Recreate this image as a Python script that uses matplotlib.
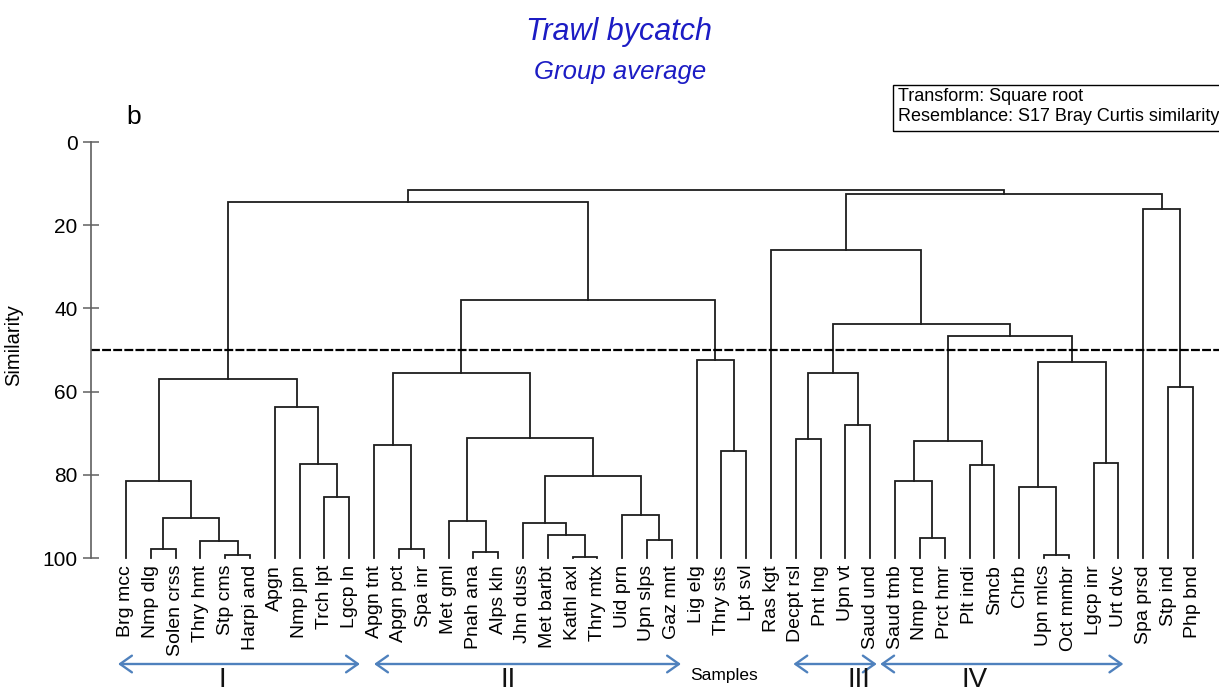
import matplotlib
matplotlib.use("Agg")
import matplotlib.pyplot as plt
from matplotlib.patches import Rectangle

plt.rcParams['font.family'] = ['Liberation Sans', 'DejaVu Sans']

# leaf order along the x axis
leaves = ['Brg mcc', 'Nmp dlg', 'Solen crss', 'Thry hmt', 'Stp cms', 'Harpi and', 'Apgn',
          'Nmp jpn', 'Trch lpt', 'Lgcp ln', 'Apgn tnt', 'Apgn pct', 'Spa inr', 'Met gml',
          'Pnah ana', 'Alps kln', 'Jhn duss', 'Met barbt', 'Kathl axl', 'Thry mtx', 'Uid prn',
          'Upn slps', 'Gaz mnt', 'Lig elg', 'Thry sts', 'Lpt svl', 'Ras kgt', 'Decpt rsl',
          'Pnt lng', 'Upn vt', 'Saud und', 'Saud tmb', 'Nmp rnd', 'Prct hmr', 'Plt indi',
          'Smcb', 'Chrb', 'Upn mlcs', 'Oct mmbr', 'Lgcp inr', 'Urt dvc', 'Spa prsd',
          'Stp ind', 'Php bnd']

# merges: (left, right, similarity); ints refer to earlier merges
merges = [
    ('Nmp dlg', 'Solen crss', 97.9),   # 0
    ('Stp cms', 'Harpi and', 99.3),    # 1
    ('Thry hmt', 1, 95.8),             # 2
    (0, 2, 90.3),                      # 3
    ('Brg mcc', 3, 81.6),              # 4
    ('Trch lpt', 'Lgcp ln', 85.3),     # 5
    ('Nmp jpn', 5, 77.3),              # 6
    ('Apgn', 6, 63.8),                 # 7
    (4, 7, 57.0),                      # 8
    ('Apgn pct', 'Spa inr', 97.9),     # 9
    ('Apgn tnt', 9, 72.8),             # 10
    ('Pnah ana', 'Alps kln', 98.6),    # 11
    ('Met gml', 11, 91.0),             # 12
    ('Kathl axl', 'Thry mtx', 99.8),   # 13
    ('Met barbt', 13, 94.4),           # 14
    ('Jhn duss', 14, 91.5),            # 15
    ('Upn slps', 'Gaz mnt', 95.6),     # 16
    ('Uid prn', 16, 89.7),             # 17
    (15, 17, 80.2),                    # 18
    (12, 18, 71.1),                    # 19
    (10, 19, 55.5),                    # 20
    ('Thry sts', 'Lpt svl', 74.2),     # 21
    ('Lig elg', 21, 52.4),             # 22
    (20, 22, 38.1),                    # 23
    (8, 23, 14.4),                     # 24
    ('Decpt rsl', 'Pnt lng', 71.3),    # 25
    ('Upn vt', 'Saud und', 68.1),      # 26
    (25, 26, 55.6),                    # 27
    ('Nmp rnd', 'Prct hmr', 95.1),     # 28
    ('Saud tmb', 28, 81.4),            # 29
    ('Plt indi', 'Smcb', 77.6),        # 30
    (29, 30, 71.8),                    # 31
    ('Upn mlcs', 'Oct mmbr', 99.3),    # 32
    ('Chrb', 32, 83.0),                # 33
    ('Lgcp inr', 'Urt dvc', 77.1),     # 34
    (33, 34, 53.0),                    # 35
    (31, 35, 46.6),                    # 36
    (27, 36, 43.8),                    # 37
    ('Ras kgt', 37, 26.0),             # 38
    ('Stp ind', 'Php bnd', 59.0),      # 39
    ('Spa prsd', 39, 16.0),            # 40
    (38, 40, 12.5),                    # 41
    (24, 41, 11.6),                    # 42
]

slice_level = 50

# groups marked under the labels: name, arrow start, arrow end (leaf units), numeral x
group_names = ['I', 'II', 'III', 'IV']
group_start = [-0.32, 10.0, 26.9, 30.4]
group_end = [9.43, 22.37, 30.26, 40.2]
group_label_x = [3.87, 15.4, 29.55, 34.2]

W, H = 1219, 691
fig = plt.figure(figsize=(W / 100, H / 100), dpi=100)


def fx(px):
    return px / W


def fy(py):
    return 1 - py / H


ax = fig.add_axes([fx(91), fy(558), (W - 91) / W, 416 / H])
ax.set_xlim(-1.41, 44.055)
ax.set_ylim(100, 0)

line_col = '#1e1e1e'
xpos = {name: i for i, name in enumerate(leaves)}
ypos = {name: 100 for name in leaves}
for k, (a, b, s) in enumerate(merges):
    xa, ya = xpos[a], ypos[a]
    xb, yb = xpos[b], ypos[b]
    ax.plot([xa, xa, xb, xb], [ya, s, s, yb], color=line_col, lw=1.3,
            solid_joinstyle='miter', clip_on=False)
    xpos[k] = (xa + xb) / 2
    ypos[k] = s

ax.axhline(slice_level, color='k', lw=1.6, ls=(0, (4, 1)))

# axes styling
for side in ['top', 'right', 'bottom']:
    ax.spines[side].set_visible(False)
ax.spines['left'].set_color('#606060')
ax.spines['left'].set_linewidth(1.2)
ax.set_yticks([0, 20, 40, 60, 80, 100])
ax.tick_params(axis='y', direction='inout', length=12.2, width=1.1, color='#606060',
               labelsize=15, pad=3.6)
ax.set_xticks(range(len(leaves)))
ax.set_xticklabels(leaves, rotation=90, fontsize=14)
ax.tick_params(axis='x', length=0, pad=5)

ax.set_ylabel('Similarity', fontsize=14.5)
ax.yaxis.set_label_coords((23 - 91) / (W - 91), (558 - 345) / 416)
ax.set_xlabel('Samples', fontsize=12.5)
ax.xaxis.set_label_coords((724 - 91) / (W - 91), (558 - 668) / 416)

# group arrows and numerals
arrow_y = (558 - 664) / 416
for name, x0, x1, xl in zip(group_names, group_start, group_end, group_label_x):
    ax.annotate('', xy=(x1, arrow_y), xytext=(x0, arrow_y),
                xycoords=('data', 'axes fraction'), annotation_clip=False,
                arrowprops=dict(arrowstyle='<->,head_length=0.85,head_width=0.6',
                                color='#4f81bd', lw=1.7, shrinkA=0, shrinkB=0,
                                mutation_scale=10))
    ax.text(xl, (558 - 667) / 416, name, transform=ax.get_xaxis_transform(),
            ha='center', va='top', fontsize=20, color='#111111')

# titles
title_col = '#1c1cc4'
fig.text(fx(619), fy(32), 'Trawl bycatch', color=title_col, style='italic',
         fontsize=22, ha='center', va='center')
fig.text(fx(620), fy(72), 'Group average', color=title_col, style='italic',
         fontsize=18.5, ha='center', va='center')
fig.text(fx(134), fy(117), 'b', fontsize=19, ha='center', va='center')

# info box
fig.add_artist(Rectangle((fx(892.7), fy(131)), fx(1240 - 892.7), 46 / H,
                         transform=fig.transFigure, fill=False, ec='k', lw=1.0))
fig.text(fx(898), fy(96.7), 'Transform: Square root', fontsize=13, ha='left', va='center')
fig.text(fx(898), fy(116.7), 'Resemblance: S17 Bray Curtis similarity', fontsize=13,
         ha='left', va='center')

fig.savefig('out.png', dpi=100, facecolor='white')
